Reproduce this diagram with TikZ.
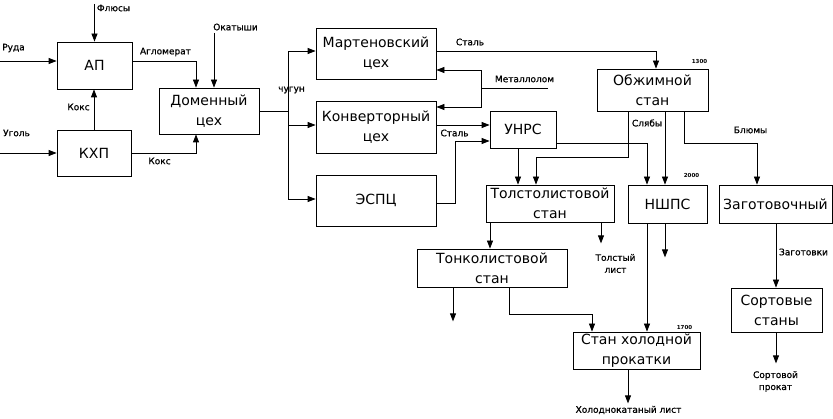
\documentclass[tikz,border=0pt]{standalone}
\usepackage{fontspec}
\setmainfont{DejaVu Sans}
\newfontfamily\lblfont[FakeBold=0.8]{DejaVu Sans}
\usetikzlibrary{arrows.meta}

\begin{document}
\begin{tikzpicture}[x=1pt, y=-1pt,
  box/.style={draw, line width=0.8pt, align=center, inner sep=0pt, font=\fontsize{14}{20}\selectfont},
  lbl/.style={align=center, inner sep=0pt, font=\lblfont\fontsize{9}{12}\selectfont},
  num/.style={inner sep=0pt, font=\fontsize{5.5}{6}\selectfont\bfseries},
  wire/.style={line width=0.8pt},
  arr/.style={wire, -{Triangle[length=8pt,width=6pt]}}]
\useasboundingbox (0,0) rectangle (833,419);

% Draw the boxes
\node[box, minimum width=75pt, minimum height=47pt] (ap) at (94.5,65.5) {АП};
\node[box, minimum width=74pt, minimum height=46pt] (khp) at (94,153) {КХП};
\node[box, minimum width=100pt, minimum height=46pt] (domna) at (209,111) {Доменный\\цех};
\node[box, minimum width=120pt, minimum height=51pt] (marten) at (376,53.5) {Мартеновский\\цех};
\node[box, minimum width=120pt, minimum height=52pt] (konv) at (376,127) {Конверторный\\цех};
\node[box, minimum width=120pt, minimum height=51pt] (espc) at (376,200.5) {ЭСПЦ};
\node[box, minimum width=66pt, minimum height=37pt] (unrs) at (523,129.5) {УНРС};
\node[box, minimum width=128pt, minimum height=37pt] (tolst) at (550,203.5) {Толстолистовой\\стан};
\node[box, minimum width=111pt, minimum height=42pt] (obzh) at (652.5,90) {Обжимной\\стан};
\node[box, minimum width=79pt, minimum height=38pt] (nshps) at (667.5,204) {НШПС};
\node[box, minimum width=113pt, minimum height=38pt] (zag) at (775.5,204) {Заготовочный};
\node[box, minimum width=150pt, minimum height=38pt] (tonk) at (492,268) {Тонколистовой\\стан};
\node[box, minimum width=127pt, minimum height=37pt] (shp) at (636.5,350.5) {Стан холодной\\прокатки};
\node[box, minimum width=91pt, minimum height=44pt] (sort) at (776.5,310) {Сортовые\\станы};

% Free ends
\coordinate (fluxin) at (94.5,4);
\coordinate (orein) at (0,61);
\coordinate (coalin) at (0,153);
\coordinate (pelin) at (214,33);
\coordinate (split) at (288,111);
\coordinate (scrapin) at (548,88);
\coordinate (scrapj) at (481,88);

% Raw materials
\draw[arr] (fluxin) -- (ap.north);
\draw[arr] (orein) -- (orein -| ap.west);
\draw[arr] (coalin) -- (coalin -| khp.west);
\draw[arr] (khp.north) -- (khp.north |- ap.south);
\draw[arr] (ap.east |- orein) -| (domna.north -| 196,0);
\draw[arr] (pelin) -- (pelin |- domna.north);
\draw[arr] (khp.east) -| (domna.south -| 196,0);

% Pig iron to the steel shops
\draw[wire] (domna.east) -- (split);
\draw[arr] (split) |- (marten.west |- 0,51);
\draw[arr] (split) |- (konv.west |- 0,125);
\draw[arr] (split) |- (espc.west |- 0,199);
\draw[arr] (marten.east |- 0,51) -| (obzh.north -| 656,0);
\draw[wire] (scrapin) -- (scrapj);
\draw[arr] (scrapj) |- (marten.east |- 0,70);
\draw[arr] (scrapj) |- (konv.east |- 0,107);
\draw[arr] (konv.east |- 0,125) -- (unrs.west |- 0,125);
\draw[arr] (espc.east |- 0,203) -- ++(19,0) |- (unrs.west |- 0,141);

% Rolling mills
\draw[arr] (unrs.south -| 518,0) -- (tolst.north -| 518,0);
\draw[arr] (unrs.east |- 0,143) -| (nshps.north -| 647,0);
\draw[arr] (obzh.south -| 628,0) -- ++(0,46) -| (tolst.north -| 536,0);
\draw[arr] (obzh.south -| 665,0) -- (nshps.north -| 665,0);
\draw[arr] (obzh.south -| 684,0) -- ++(0,32) -| (zag.north -| 757,0);
\draw[arr] (tolst.south -| 490,0) -- (tonk.north -| 490,0);
\draw[arr] (tolst.south -| 601,0) -- ++(0,21);
\draw[arr] (nshps.south -| 647,0) -- (shp.north -| 647,0);
\draw[arr] (nshps.south -| 665,0) -- ++(0,34);
\draw[arr] (tonk.south -| 453,0) -- ++(0,34);
\draw[arr] (tonk.south -| 509,0) -- ++(0,27) -| (shp.north -| 592,0);
\draw[arr] (shp.south -| 628,0) -- ++(0,34);
\draw[arr] (zag.south -| 776,0) -- (sort.north -| 776,0);
\draw[arr] (sort.south -| 776,0) -- ++(0,31);

% Labels
\node[lbl] (tflux) at (113.5,8) {Флюсы};
\node[lbl] (tore) at (13.5,48) {Руда};
\node[lbl] (tcoal) at (16.5,133) {Уголь};
\node[lbl] (tcoke) at (78.5,107) {Кокс};
\node[lbl] (tsinter) at (165.5,52) {Агломерат};
\node[lbl] (tpel) at (235.5,27) {Окатыши};
\node[lbl] (tcoke2) at (159.5,161) {Кокс};
\node[lbl] (tiron) at (291.5,90) {чугун};
\node[lbl] (tsteel) at (470,42) {Сталь};
\node[lbl] (tscrap) at (524.5,79) {Металлолом};
\node[lbl] (tsteel2) at (454.5,133) {Сталь};
\node[lbl] (tslab) at (647,123) {Слябы};
\node[lbl] (tbloom) at (750.5,130) {Блюмы};
\node[lbl] (tplate) at (615.5,263.5) {Толстый\\лист};
\node[lbl] (tcold) at (628.5,410) {Холоднокатаный лист};
\node[lbl] (tbillet) at (803.5,252) {Заготовки};
\node[lbl] (tsect) at (775.5,381.5) {Сортовой\\прокат};
\node[num] (n1300) at (699.5,62) {1300};
\node[num] (n2000) at (691.5,176) {2000};
\node[num] (n1700) at (684.5,327) {1700};
\end{tikzpicture}
\end{document}
